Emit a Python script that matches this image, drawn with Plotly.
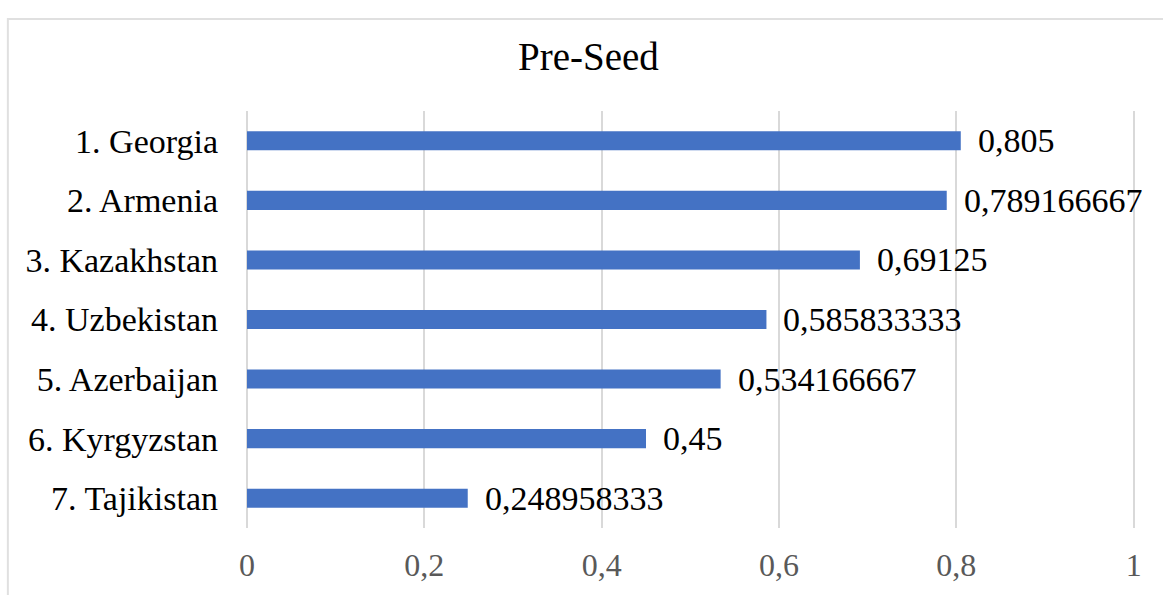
import plotly.graph_objects as go

# Pre-Seed scores by country
countries = ["1. Georgia", "2. Armenia", "3. Kazakhstan", "4. Uzbekistan",
             "5. Azerbaijan", "6. Kyrgyzstan", "7. Tajikistan"]
scores = [0.805, 0.789166667, 0.69125, 0.585833333, 0.534166667, 0.45, 0.248958333]
score_labels = ["0,805", "0,789166667", "0,69125", "0,585833333",
                "0,534166667", "0,45", "0,248958333"]
tick_values = [0, 0.2, 0.4, 0.6, 0.8, 1]
tick_labels = ["0", "0,2", "0,4", "0,6", "0,8", "1"]

FONT = "Liberation Serif"
BAR_BLUE = "#4472C4"
GRID = "#d9d9d9"

fig = go.Figure()
fig.add_trace(go.Bar(
    x=scores, y=countries, orientation="h",
    marker=dict(color=BAR_BLUE, line=dict(width=0)),
    hoverinfo="skip",
))

# value labels to the right of each bar
for c, v, lab in zip(countries, scores, score_labels):
    fig.add_annotation(
        x=v, y=c, xref="x", yref="y", text=lab, showarrow=False,
        xanchor="left", yanchor="middle", xshift=15,
        font=dict(family=FONT, size=34, color="#000000"),
    )

# outer chart frame
fig.add_shape(
    type="rect", xref="paper", yref="paper",
    x0=-0.2693, x1=1.1, y0=-0.3, y1=1.2206,
    line=dict(color="#e0e0e0", width=2), layer="below",
)

fig.update_layout(
    width=1163, height=595,
    margin=dict(l=247, r=28, t=111, b=67, autoexpand=False),
    paper_bgcolor="white", plot_bgcolor="white",
    bargap=0.68,
    showlegend=False,
    title=dict(text="Pre-Seed", x=0.506, xanchor="center", y=0.905, yanchor="middle",
               font=dict(family=FONT, size=39, color="#000000")),
    xaxis=dict(
        range=[0, 1.0015], tickvals=tick_values, ticktext=tick_labels,
        showgrid=True, gridcolor=GRID, gridwidth=2,
        zeroline=True, zerolinecolor=GRID, zerolinewidth=2,
        showline=False, ticks="", automargin=False,
        tickfont=dict(family=FONT, size=32, color="#595959"),
        ticklabelstandoff=15,
    ),
    yaxis=dict(
        autorange="reversed", showgrid=False, zeroline=False,
        showline=False, ticks="", automargin=False,
        tickfont=dict(family=FONT, size=34, color="#000000"),
        ticklabelstandoff=28,
    ),
)

fig.write_html("out.html")
